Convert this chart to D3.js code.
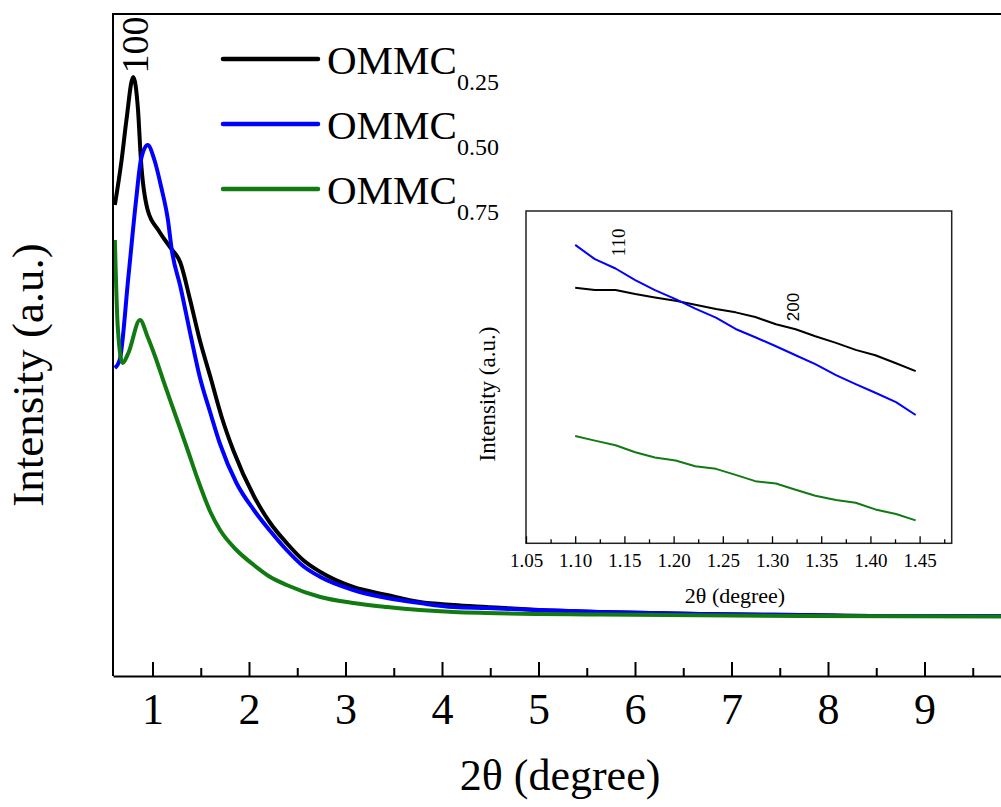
<!DOCTYPE html>
<html><head><meta charset="utf-8">
<script src="https://cdn.jsdelivr.net/npm/d3@7"></script>
<style>body{margin:0;background:#fff}svg{display:block}</style>
</head><body><svg id="c" width="1001" height="807"></svg>
<script>
// ---------- data ----------
const seriesNames = ["0.25", "0.50", "0.75"];
const seriesColors = ["#000000", "#0000ff", "#117a11"];

// main pattern: [2θ, intensity (a.u.)]
const ommc025 = [[0.61,471],[0.68,516],[0.73,556],[0.80,599],[0.85,566],[0.88,516],[0.95,466],[1.06,446],[1.18,429],[1.29,413],[1.39,376],[1.49,336],[1.60,299],[1.72,258],[1.84,225],[2.05,180],[2.22,153],[2.39,133],[2.56,116],[2.74,104],[3.08,89],[3.43,81],[3.77,74],[4.12,71],[4.46,69],[5.0,66],[5.64,64],[6.67,62],[7.71,61],[8.75,60],[10.0,60]];
const ommc050 = [[0.61,308],[0.66,316],[0.75,399],[0.83,476],[0.88,516],[0.95,531],[1.02,516],[1.09,489],[1.16,456],[1.20,426],[1.29,389],[1.39,343],[1.49,299],[1.60,263],[1.70,232],[1.87,193],[2.05,166],[2.22,145],[2.39,126],[2.56,110],[2.74,99],[3.08,86],[3.43,78],[3.77,73],[4.12,69],[4.46,68],[5.0,66],[5.64,64],[6.67,62],[7.71,61],[8.75,60],[10.0,60]];
const ommc075 = [[0.61,436],[0.64,349],[0.69,313],[0.75,323],[0.87,356],[0.95,339],[1.04,316],[1.11,296],[1.23,263],[1.35,230],[1.49,191],[1.60,164],[1.70,146],[1.87,126],[2.05,111],[2.22,99],[2.39,91],[2.74,79],[3.08,73],[3.43,69],[3.77,66],[4.12,64],[4.46,63],[5.64,61.5],[7.71,60],[10.0,59.5]];

const mainTicks = [1,2,3,4,5,6,7,8,9];
const mainMinorTicks = [1.5,2.5,3.5,4.5,5.5,6.5,7.5,8.5,9.5];

// inset (zoom 1.10 – 1.446)
const insetX = [1.100,1.120,1.141,1.161,1.181,1.202,1.222,1.243,1.263,1.283,1.304,1.324,1.344,1.365,1.385,1.405,1.426,1.446];
const inset025 = [76.9,76.2,76.2,75.0,74.0,73.0,71.8,70.5,69.5,68.1,65.9,64.4,62.3,60.3,58.2,56.6,54.2,51.8];
const inset050 = [89.8,85.5,82.7,79.2,76.2,73.5,70.6,67.9,64.5,62.0,59.3,56.6,53.9,50.6,47.9,45.3,42.5,38.6];
const inset075 = [32.3,30.9,29.5,27.4,25.8,24.9,23.2,22.4,20.6,18.7,18.0,16.1,14.3,13.0,12.2,10.2,8.8,6.9];
const insetTicks = [1.05,1.10,1.15,1.20,1.25,1.30,1.35,1.40,1.45];
const insetMinorTicks = [1.075,1.125,1.175,1.225,1.275,1.325,1.375,1.425,1.475];

// ---------- drawing ----------
const svg = d3.select("#c");
const serif = "'Liberation Serif','Times New Roman',serif";

const x = d3.scaleLinear().domain([0.5907, 10]).range([113, 1021]);
const y = d3.scaleLinear().domain([0, 662]).range([676, 14]);

const line = d3.line().x(d => x(d[0])).y(d => y(d[1])).curve(d3.curveMonotoneX);
[ommc025, ommc050, ommc075].forEach((s, i) => {
  svg.append("path").datum(s).attr("d", line)
    .attr("fill", "none").attr("stroke", seriesColors[i])
    .attr("stroke-width", 4).attr("stroke-linejoin", "round");
});

// frame (left + top)
svg.append("line").attr("x1", 113).attr("x2", 113).attr("y1", y.range()[1]).attr("y2", y.range()[0])
  .attr("stroke", "#000").attr("stroke-width", 2);
svg.append("line").attr("x1", 112).attr("x2", 1001).attr("y1", 14).attr("y2", 14)
  .attr("stroke", "#000").attr("stroke-width", 2);

// bottom axis
const gx = svg.append("g").attr("transform", "translate(0,676)")
  .call(d3.axisBottom(x).tickValues(mainTicks).tickSize(-14).tickSizeOuter(0).tickPadding(17).tickFormat(d3.format("d")));
gx.select(".domain").attr("stroke", "#000").attr("stroke-width", 2);
gx.selectAll(".tick line").attr("stroke", "#000").attr("stroke-width", 2);
gx.selectAll(".tick text").attr("font-family", serif).attr("font-size", 44).attr("fill", "#000");
svg.append("g").attr("transform", "translate(0,676)")
  .call(d3.axisBottom(x).tickValues(mainMinorTicks).tickSize(-8).tickFormat(""))
  .call(g => { g.select(".domain").remove(); g.selectAll("line").attr("stroke", "#000").attr("stroke-width", 2); });

// axis titles
svg.append("text").attr("x", 560).attr("y", 790).attr("text-anchor", "middle")
  .attr("font-family", serif).attr("font-size", 44).text("2θ (degree)");
svg.append("text").attr("transform", "translate(43,375) rotate(-90)").attr("text-anchor", "middle")
  .attr("font-family", serif).attr("font-size", 45).text("Intensity (a.u.)");

// peak label 100
svg.append("text").attr("transform", "translate(148,45) rotate(-90)").attr("text-anchor", "middle")
  .attr("font-family", serif).attr("font-size", 38).text("100");

// legend
const legY = [59, 124, 189];
seriesNames.forEach((n, i) => {
  svg.append("line").attr("x1", 223).attr("x2", 318).attr("y1", legY[i]).attr("y2", legY[i])
    .attr("stroke", seriesColors[i]).attr("stroke-width", 4.5).attr("stroke-linecap", "round");
  const t = svg.append("text").attr("x", 327).attr("y", legY[i] + 14.5)
    .attr("font-family", serif).attr("font-size", 41).attr("fill", "#000");
  t.append("tspan").text("OMMC");
  t.append("tspan").attr("font-size", 24).attr("dy", 16).text(n);
});

// ---------- inset ----------
const ix = d3.scaleLinear().domain([1.05, 1.4826]).range([526, 951.7]);
const iy = d3.scaleLinear().domain([0, 100]).range([543.3, 211]);
svg.append("rect").attr("x", 526).attr("y", 211).attr("width", 951.7 - 526).attr("height", 543.3 - 211)
  .attr("fill", "#fff").attr("stroke", "#222").attr("stroke-width", 1.5);

const iline = d3.line().x((d, i) => ix(insetX[i])).y(d => iy(d));
[inset025, inset050, inset075].forEach((s, i) => {
  svg.append("path").datum(s).attr("d", iline).attr("fill", "none")
    .attr("stroke", seriesColors[i]).attr("stroke-width", 2).attr("stroke-linejoin", "round");
});

const gix = svg.append("g").attr("transform", "translate(0,543.3)")
  .call(d3.axisBottom(ix).tickValues(insetTicks).tickSize(-7).tickSizeOuter(0).tickPadding(10).tickFormat(d3.format(".2f")));
gix.select(".domain").remove();
gix.selectAll(".tick line").attr("stroke", "#000").attr("stroke-width", 1.3);
gix.selectAll(".tick text").attr("font-family", serif).attr("font-size", 19).attr("fill", "#000");
svg.append("g").attr("transform", "translate(0,543.3)")
  .call(d3.axisBottom(ix).tickValues(insetMinorTicks).tickSize(-4).tickFormat(""))
  .call(g => { g.select(".domain").remove(); g.selectAll("line").attr("stroke", "#000").attr("stroke-width", 1.3); });

svg.append("text").attr("x", 735).attr("y", 603).attr("text-anchor", "middle")
  .attr("font-family", serif).attr("font-size", 22).text("2θ (degree)");
svg.append("text").attr("transform", "translate(495,394) rotate(-90)").attr("text-anchor", "middle")
  .attr("font-family", serif).attr("font-size", 23).text("Intensity (a.u.)");

svg.append("text").attr("transform", "translate(625,242.5) rotate(-90)").attr("text-anchor", "middle")
  .attr("font-family", serif).attr("font-size", 19).text("110");
svg.append("text").attr("transform", "translate(799,307) rotate(-90)").attr("text-anchor", "middle")
  .attr("font-family", "'Liberation Sans',Arial,sans-serif").attr("font-size", 17).text("200");
</script></body></html>
